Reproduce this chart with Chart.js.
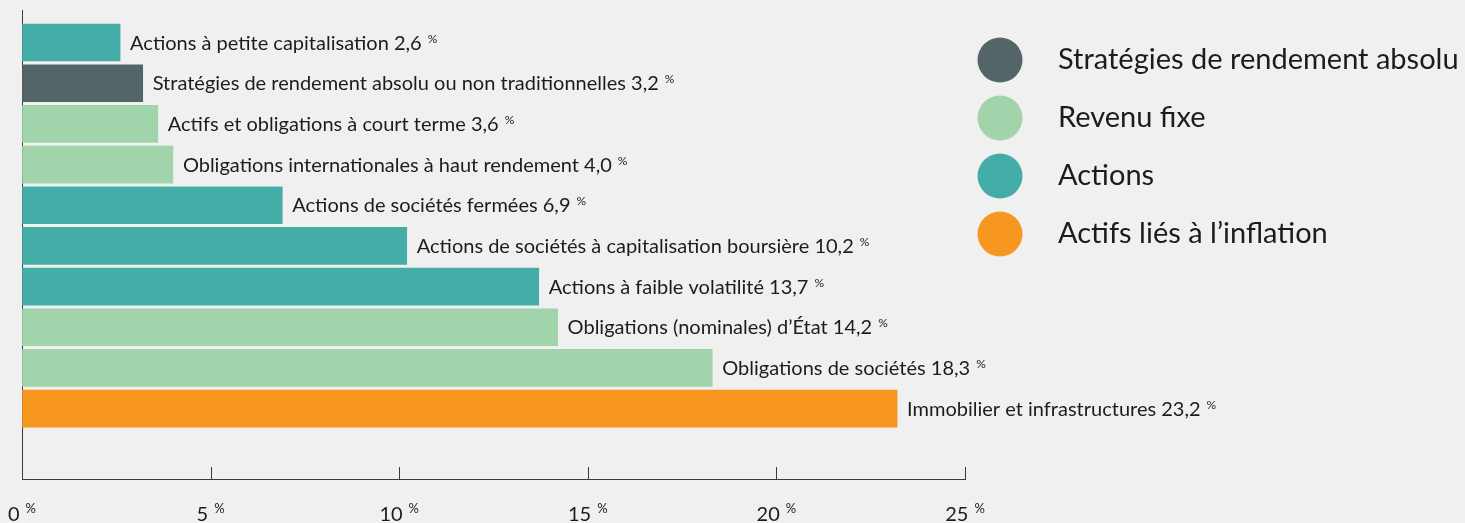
<!DOCTYPE html>
<html lang="fr">
<head>
<meta charset="utf-8">
<script src="https://cdn.jsdelivr.net/npm/chart.js@4.4.1/dist/chart.umd.min.js"></script>
<style>
  html, body { margin: 0; padding: 0; background: #f0f0f0; }
  #wrap { width: 1465px; height: 523px; position: relative; }
</style>
</head>
<body>
<div id="wrap"><canvas id="allocChart"></canvas></div>
<script>
const categories = [
  "Actions à petite capitalisation",
  "Stratégies de rendement absolu ou non traditionnelles",
  "Actifs et obligations à court terme",
  "Obligations internationales à haut rendement",
  "Actions de sociétés fermées",
  "Actions de sociétés à capitalisation boursière",
  "Actions à faible volatilité",
  "Obligations (nominales) d’État",
  "Obligations de sociétés",
  "Immobilier et infrastructures",
];
const values = [2.6, 3.2, 3.6, 4.0, 6.9, 10.2, 13.7, 14.2, 18.3, 23.2];
const groups = ["actions", "strategies", "revenu", "revenu", "actions", "actions", "actions", "revenu", "revenu", "inflation"];

const groupKeys = ["strategies", "revenu", "actions", "inflation"];
const groupLabels = ["Stratégies de rendement absolu", "Revenu fixe", "Actions", "Actifs liés à l’inflation"];
const groupColors = ["#536567", "#a2d4ab", "#45ada8", "#f7971f"];

const xTicks = [0, 5, 10, 15, 20, 25];

const FONT = "Lato, 'Open Sans', sans-serif";
const TEXT = "#1c1c1c";
const AXIS = "#3a3a3a";

const background = {
  id: "background",
  beforeDraw: (chart) => {
    const { ctx } = chart;
    ctx.save();
    ctx.fillStyle = "#f0f0f0";
    ctx.fillRect(0, 0, chart.width, chart.height);
    ctx.restore();
  },
};

// text with a small raised "%" after it
function drawPercentText(ctx, text, x, y, size, pctSize, rise, align) {
  ctx.font = `${size}px ${FONT}`;
  const w = ctx.measureText(text).width;
  ctx.font = `${pctSize}px ${FONT}`;
  const pw = ctx.measureText("%").width;
  const gap = size * 0.3;
  let left = x;
  if (align === "center") left = x - (w + gap + pw) / 2;
  ctx.textAlign = "left";
  ctx.textBaseline = "alphabetic";
  ctx.font = `${size}px ${FONT}`;
  ctx.fillText(text, left, y);
  ctx.font = `${pctSize}px ${FONT}`;
  ctx.fillText("%", left + w + gap, y - rise);
}

const barLabels = {
  id: "barLabels",
  afterDatasetsDraw: (chart) => {
    const { ctx } = chart;
    ctx.save();
    ctx.fillStyle = TEXT;
    chart.data.datasets.forEach((ds, di) => {
      const meta = chart.getDatasetMeta(di);
      meta.data.forEach((bar, i) => {
        const item = ds.data[i];
        const txt = `${categories[item.y]} ${item.x.toFixed(1).replace(".", ",")}`;
        drawPercentText(ctx, txt, bar.x + 10, bar.y + 7, 20, 12, 7, "left");
      });
    });
    ctx.restore();
  },
};

// inward tick marks and "n %" labels under the x axis
const xAxisDecor = {
  id: "xAxisDecor",
  afterDraw: (chart) => {
    const { ctx, chartArea } = chart;
    const xScale = chart.scales.x;
    ctx.save();
    ctx.strokeStyle = AXIS;
    ctx.lineWidth = 1;
    xTicks.forEach((v) => {
      const px = Math.round(xScale.getPixelForValue(v)) + 0.5;
      ctx.beginPath();
      ctx.moveTo(px, chartArea.bottom);
      ctx.lineTo(px, chartArea.bottom - 12);
      ctx.stroke();
    });
    ctx.fillStyle = TEXT;
    xTicks.forEach((v) => {
      drawPercentText(ctx, String(v), xScale.getPixelForValue(v), 521, 20, 13, 8, "center");
    });
    ctx.restore();
  },
};

const sideLegend = {
  id: "sideLegend",
  afterDraw: (chart) => {
    const { ctx } = chart;
    ctx.save();
    groupLabels.forEach((label, k) => {
      const cy = 60 + 58 * k;
      ctx.fillStyle = groupColors[k];
      ctx.beginPath();
      ctx.arc(1000, cy, 22.5, 0, Math.PI * 2);
      ctx.fill();
      ctx.fillStyle = TEXT;
      ctx.font = `29px ${FONT}`;
      ctx.textAlign = "left";
      ctx.textBaseline = "middle";
      ctx.fillText(label, 1058, cy);
    });
    ctx.restore();
  },
};

function createAllocationChart() {
  const ctx = document.getElementById("allocChart").getContext("2d");

  const datasets = groupKeys.map((key, k) => ({
    label: groupLabels[k],
    data: categories
      .map((c, i) => ({ x: values[i], y: i, g: groups[i] }))
      .filter((d) => d.g === key),
    backgroundColor: groupColors[k],
    borderWidth: 0,
    barThickness: 37,
    grouped: false,
  }));

  return new Chart(ctx, {
    type: "bar",
    data: { datasets: datasets },
    options: {
      indexAxis: "y",
      responsive: true,
      maintainAspectRatio: false,
      animation: false,
      layout: {
        padding: { left: 22, right: 500, top: 10, bottom: 44 },
      },
      scales: {
        x: {
          type: "linear",
          min: 0,
          max: 25,
          offset: false,
          ticks: { stepSize: 5, display: false },
          grid: { drawOnChartArea: false, drawTicks: false },
          border: { color: AXIS, width: 1 },
        },
        y: {
          type: "linear",
          min: -0.8,
          max: 10.73,
          reverse: true,
          offset: false,
          ticks: { display: false },
          grid: { drawOnChartArea: false, drawTicks: false, offset: false },
          border: { color: AXIS, width: 1 },
        },
      },
      plugins: {
        legend: { display: false },
        tooltip: { enabled: false },
      },
    },
    plugins: [background, barLabels, xAxisDecor, sideLegend],
  });
}

document.addEventListener("DOMContentLoaded", () => {
  createAllocationChart();
});
</script>
</body>
</html>
